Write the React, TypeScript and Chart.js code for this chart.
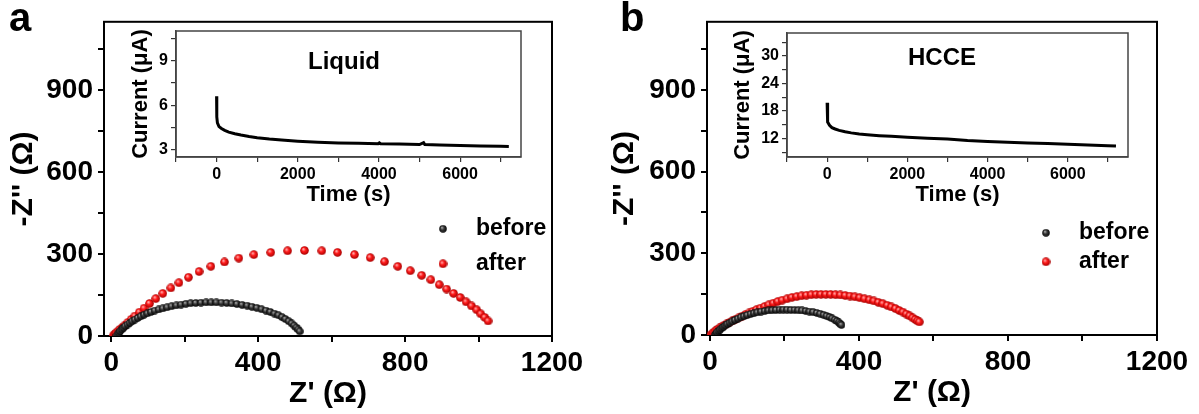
import React, { useEffect, useRef } from 'react';
import { Chart, registerables } from 'chart.js';

Chart.register(...registerables);

const W = 1199;
const H = 414;
const FONT = '"Liberation Sans", Arial, Helvetica, sans-serif';

// ---------- Panel a : Liquid electrolyte (Nyquist) ----------
const aBeforeZre = [14, 17, 20, 24, 28, 33, 38, 44, 50, 57, 64, 72, 80, 89, 98, 108, 118, 129, 140, 152, 164, 177, 190, 203, 216, 230, 244, 258, 272, 286, 300, 314, 328, 342, 356, 370, 383, 396, 409, 421, 433, 444, 455, 465, 474, 483, 491, 498, 504, 509, 513];
const aBeforeZim = [0, 6, 12, 18, 24, 30, 36, 42, 48, 54, 60, 66, 72, 78, 83, 88, 93, 97, 101, 105, 109, 112, 115, 118, 120, 121, 122, 123, 123, 123, 122, 121, 119, 117, 114, 111, 107, 103, 98, 93, 88, 82, 76, 69, 62, 54, 46, 38, 31, 24, 17];
const aAfterZre = [5, 8, 11, 15, 19, 24, 30, 37, 45, 54, 64, 76, 89, 104, 121, 140, 162, 184, 210, 239, 271, 308, 347, 388, 434, 480, 526, 573, 616, 662, 705, 744, 780, 814, 845, 870, 893, 913, 932, 950, 966, 981, 995, 1006, 1017, 1026];
const aAfterZim = [1, 5, 9, 14, 19, 25, 32, 40, 50, 61, 73, 87, 102, 119, 137, 156, 176, 195, 215, 236, 255, 271, 285, 298, 306, 312, 313, 312, 306, 298, 287, 272, 255, 239, 222, 206, 188, 172, 156, 141, 125, 110, 96, 81, 68, 55];

// ---------- Panel b : HCCE (Nyquist) ----------
const bBeforeZre = [13, 16, 19, 23, 27, 31, 36, 41, 47, 53, 60, 67, 75, 83, 91, 100, 109, 118, 127, 137, 147, 157, 167, 177, 187, 197, 207, 217, 227, 237, 247, 257, 267, 277, 287, 296, 305, 313, 321, 328, 335, 341, 346, 350, 353];
const bBeforeZim = [0, 5, 10, 15, 20, 25, 30, 35, 40, 45, 50, 55, 60, 65, 69, 73, 77, 80, 83, 86, 88, 90, 91, 92, 93, 93, 93, 92, 92, 91, 90, 88, 86, 84, 81, 78, 74, 70, 66, 61, 56, 51, 46, 41, 37];
const bAfterZre = [2, 6, 10, 15, 20, 26, 32, 38, 45, 52, 60, 68, 77, 86, 95, 105, 115, 125, 136, 147, 158, 170, 182, 194, 207, 220, 233, 246, 259, 272, 285, 298, 311, 324, 337, 350, 363, 376, 389, 402, 415, 428, 440, 452, 464, 476, 487, 498, 508, 518, 527, 536, 544, 551, 557, 562];
const bAfterZim = [0, 5, 10, 16, 21, 26, 31, 36, 41, 46, 52, 57, 63, 69, 75, 81, 87, 93, 99, 105, 111, 117, 123, 128, 133, 138, 141, 144, 146, 148, 149, 149, 149, 149, 148, 147, 145, 143, 140, 137, 133, 129, 125, 120, 115, 109, 103, 97, 90, 84, 77, 70, 63, 57, 52, 48];

// ---------- Insets : current vs time ----------
const liquidTime = [0, 5, 20, 60, 120, 200, 300, 450, 600, 800, 1000, 1300, 1600, 2000, 2500, 3000, 3500, 3980, 4010, 4040, 4500, 5000, 5100, 5130, 5500, 6000, 6500, 7000, 7200];
const liquidCurrent = [6.6, 5.2, 4.8, 4.55, 4.42, 4.3, 4.18, 4.07, 3.98, 3.88, 3.8, 3.71, 3.64, 3.57, 3.5, 3.45, 3.42, 3.39, 3.45, 3.39, 3.37, 3.34, 3.47, 3.34, 3.31, 3.28, 3.25, 3.22, 3.21];
const hcceTime = [0, 5, 20, 60, 120, 200, 300, 450, 600, 800, 1000, 1300, 1600, 2000, 2500, 3000, 3500, 4000, 4500, 5000, 5500, 6000, 6500, 7000, 7200];
const hcceCurrent = [19.8, 16.8, 15.6, 14.9, 14.4, 14.1, 13.8, 13.5, 13.25, 13.0, 12.85, 12.65, 12.5, 12.3, 12.1, 11.9, 11.6, 11.4, 11.2, 11.05, 10.95, 10.8, 10.6, 10.45, 10.4];

// ---------- ticks and tick labels ----------
const mainXTicks = [0, 200, 400, 600, 800, 1000, 1200];
const mainXLabels = [0, 400, 800, 1200];
const mainYTicks = [0, 150, 300, 450, 600, 750, 900, 1050];
const mainYLabels = [0, 300, 600, 900];
const insetXTicks = [-1000, 0, 1000, 2000, 3000, 4000, 5000, 6000, 7000];
const insetXLabels = [0, 2000, 4000, 6000];
const liquidYTicks = [3, 4.5, 6, 7.5, 9, 10.5];
const liquidYLabels = [3, 6, 9];
const hcceYTicks = [9, 12, 15, 18, 21, 24, 27, 30, 33];
const hcceYLabels = [12, 18, 24, 30];

const pts = (xs: number[], ys: number[]) => xs.map((x, i) => ({ x, y: ys[i] }));
const fixTicks = (values: number[]) => (s: any) => { s.ticks = values.map((v) => ({ value: v })); };
const labelOnly = (values: number[]) => (v: number) => (values.includes(v) ? String(v) : '');

function sphere(d: number, stops: [number, string][]) {
  const c = document.createElement('canvas');
  c.width = d;
  c.height = d;
  const g = c.getContext('2d')!;
  const r = d / 2;
  const grad = g.createRadialGradient(r * 0.7, r * 0.65, 0, r, r, r);
  stops.forEach(([o, col]) => grad.addColorStop(o, col));
  g.fillStyle = grad;
  g.beginPath();
  g.arc(r, r, r - 0.2, 0, Math.PI * 2);
  g.fill();
  return c;
}

const framePlugin = {
  id: 'frame',
  beforeDatasetsDraw(chart: any, _a: any, o: any) {
    const { ctx, chartArea: a } = chart;
    ctx.save();
    ctx.strokeStyle = o.color;
    ctx.lineWidth = o.width;
    ctx.strokeRect(a.left, a.top, a.right - a.left, a.bottom - a.top);
    ctx.restore();
  },
};

const legendPlugin = {
  id: 'nyqLegend',
  afterDatasetsDraw(chart: any, _a: any, o: any) {
    if (!o || !o.show) return;
    const { ctx, chartArea } = chart;
    ctx.save();
    chart.data.datasets.forEach((ds: any, i: number) => {
      const x = chartArea.left + o.dx;
      const y = chartArea.top + o.dy + i * o.gap;
      const img = ds.pointStyle;
      ctx.drawImage(img, x - img.width / 2, y - img.height / 2);
      ctx.font = `bold ${o.size}px ${FONT}`;
      ctx.fillStyle = '#000';
      ctx.textBaseline = 'middle';
      ctx.textAlign = 'left';
      ctx.fillText(ds.label, x + o.textGap, y);
    });
    ctx.restore();
  },
};

const textPlugin = {
  id: 'freeText',
  afterDraw(chart: any, _a: any, o: any) {
    if (!o || !o.items) return;
    const { ctx } = chart;
    ctx.save();
    o.items.forEach((t: any) => {
      ctx.font = `bold ${t.size}px ${FONT}`;
      ctx.fillStyle = '#000';
      ctx.textAlign = t.align;
      ctx.textBaseline = t.baseline;
      ctx.fillText(t.text, t.x, t.y);
    });
    ctx.restore();
  },
};

function mainConfig(p: any) {
  const tickFont = { family: FONT, size: 28, weight: 'bold' };
  const titleFont = { family: FONT, size: 30, weight: 'bold' };
  const grid = { display: true, drawOnChartArea: false, drawTicks: true, tickLength: 6, tickColor: '#000', tickWidth: 2, lineWidth: 2, color: '#000' };
  return {
    type: 'scatter',
    data: {
      datasets: [
        { label: 'before', data: pts(p.beforeX, p.beforeY), pointStyle: p.black, pointRadius: 4, showLine: false },
        { label: 'after', data: pts(p.afterX, p.afterY), pointStyle: p.red, pointRadius: 4.5, showLine: false },
      ],
    },
    options: {
      responsive: false,
      animation: false,
      events: [],
      layout: { padding: p.padding },
      plugins: {
        legend: { display: false },
        tooltip: { enabled: false },
        frame: { color: '#000', width: 2 },
        nyqLegend: { show: true, dx: 339, dy: p.legendDy, gap: p.legendGap, textGap: 33, size: 23 },
        freeText: { items: [{ text: p.letter, x: p.letterX, y: 31, size: 40, align: 'left', baseline: 'alphabetic' }] },
      },
      scales: {
        x: {
          type: 'linear',
          position: 'bottom',
          min: p.xMin,
          max: 1200,
          afterBuildTicks: fixTicks(mainXTicks),
          afterFit: (s: any) => { s.height = 76; },
          border: { display: true, color: '#000', width: 2 },
          grid,
          ticks: { autoSkip: false, maxRotation: 0, padding: 4, color: '#000', font: tickFont, callback: labelOnly(mainXLabels) },
          title: { display: true, text: "Z' (Ω)", color: '#000', font: titleFont, padding: { top: 0, bottom: 0 } },
        },
        y: {
          type: 'linear',
          position: 'left',
          min: 0,
          max: 1150,
          afterBuildTicks: fixTicks(mainYTicks),
          afterFit: (s: any) => { s.width = p.yWidth; },
          border: { display: true, color: '#000', width: 2 },
          grid,
          ticks: { autoSkip: false, padding: 5, color: '#000', font: tickFont, callback: labelOnly(mainYLabels) },
          title: { display: true, text: "-Z'' (Ω)", color: '#000', font: titleFont, padding: { top: 6, bottom: 0 } },
        },
      },
    },
    plugins: [framePlugin, legendPlugin, textPlugin],
  };
}

function insetConfig(p: any) {
  const tickFont = { family: FONT, size: 16, weight: 'bold' };
  const titleFont = { family: FONT, size: 22, weight: 'bold' };
  const grid = { display: true, drawOnChartArea: false, drawTicks: true, tickLength: 5, tickColor: '#333', tickWidth: 1.2, lineWidth: 1.2, color: '#333' };
  return {
    type: 'line',
    data: {
      datasets: [
        { label: p.name, data: pts(p.t, p.i), borderColor: '#000', borderWidth: 3, pointRadius: 0, fill: false, tension: 0 },
      ],
    },
    options: {
      responsive: false,
      animation: false,
      events: [],
      layout: { padding: p.padding },
      plugins: {
        legend: { display: false },
        tooltip: { enabled: false },
        frame: { color: '#444', width: 1.5 },
        freeText: { items: [{ text: p.name, x: p.nameX, y: p.nameY, size: 24, align: 'center', baseline: 'middle' }] },
      },
      scales: {
        x: {
          type: 'linear',
          position: 'bottom',
          min: -1000,
          max: 7500,
          afterBuildTicks: fixTicks(insetXTicks),
          afterFit: (s: any) => { s.height = 51; },
          border: { display: true, color: '#444', width: 1.5 },
          grid,
          ticks: { autoSkip: false, maxRotation: 0, padding: 3, color: '#000', font: tickFont, callback: labelOnly(insetXLabels) },
          title: { display: true, text: 'Time (s)', color: '#000', font: titleFont, padding: { top: 0, bottom: 0 } },
        },
        y: {
          type: 'linear',
          position: 'left',
          min: p.yMin,
          max: p.yMax,
          afterBuildTicks: fixTicks(p.yTicks),
          afterFit: (s: any) => { s.width = p.yWidth; },
          border: { display: true, color: '#444', width: 1.5 },
          grid,
          ticks: { autoSkip: false, padding: 3, color: '#000', font: tickFont, callback: labelOnly(p.yLabels) },
          title: { display: true, text: 'Current (μA)', color: '#000', font: titleFont, padding: { top: 4, bottom: 0 } },
        },
      },
    },
    plugins: [framePlugin, textPlugin],
  };
}

export default function App() {
  const r1 = useRef<HTMLCanvasElement | null>(null);
  const r2 = useRef<HTMLCanvasElement | null>(null);
  const r3 = useRef<HTMLCanvasElement | null>(null);
  const r4 = useRef<HTMLCanvasElement | null>(null);

  useEffect(() => {
    const red = sphere(9, [[0, '#ffc8c8'], [0.45, '#ff1a1a'], [1, '#a00000']]);
    const black = sphere(8, [[0, '#bdbdbd'], [0.45, '#3a3a3a'], [1, '#000000']]);
    const charts = [
      new Chart(r1.current as any, mainConfig({
        beforeX: aBeforeZre, beforeY: aBeforeZim, afterX: aAfterZre, afterY: aAfterZim,
        red, black, xMin: -20, yWidth: 104, padding: { left: 0, top: 21, right: 647, bottom: 2 },
        legendDy: 207, legendGap: 35, letter: 'a', letterX: 9,
      }) as any),
      new Chart(r2.current as any, mainConfig({
        beforeX: bBeforeZre, beforeY: bBeforeZim, afterX: bAfterZre, afterY: bAfterZim,
        red, black, xMin: -8, yWidth: 106, padding: { left: 601, top: 21, right: 42, bottom: 3 },
        legendDy: 211, legendGap: 29, letter: 'b', letterX: 620,
      }) as any),
      new Chart(r3.current as any, insetConfig({
        name: 'Liquid', t: liquidTime, i: liquidCurrent, yMin: 2.5, yMax: 11, yTicks: liquidYTicks, yLabels: liquidYLabels,
        yWidth: 52, padding: { left: 124, top: 31, right: 678, bottom: 206 }, nameX: 344, nameY: 62,
      }) as any),
      new Chart(r4.current as any, insetConfig({
        name: 'HCCE', t: hcceTime, i: hcceCurrent, yMin: 8, yMax: 35, yTicks: hcceYTicks, yLabels: hcceYLabels,
        yWidth: 61, padding: { left: 726, top: 33, right: 71, bottom: 206 }, nameX: 942, nameY: 58,
      }) as any),
    ];
    return () => charts.forEach((c) => c.destroy());
  }, []);

  const cs: React.CSSProperties = { position: 'absolute', left: 0, top: 0 };
  return (
    <div style={{ position: 'absolute', left: 0, top: 0, width: W, height: H, background: '#fff', overflow: 'hidden' }}>
      <canvas ref={r1} width={W} height={H} style={cs} />
      <canvas ref={r2} width={W} height={H} style={cs} />
      <canvas ref={r3} width={W} height={H} style={cs} />
      <canvas ref={r4} width={W} height={H} style={cs} />
    </div>
  );
}
